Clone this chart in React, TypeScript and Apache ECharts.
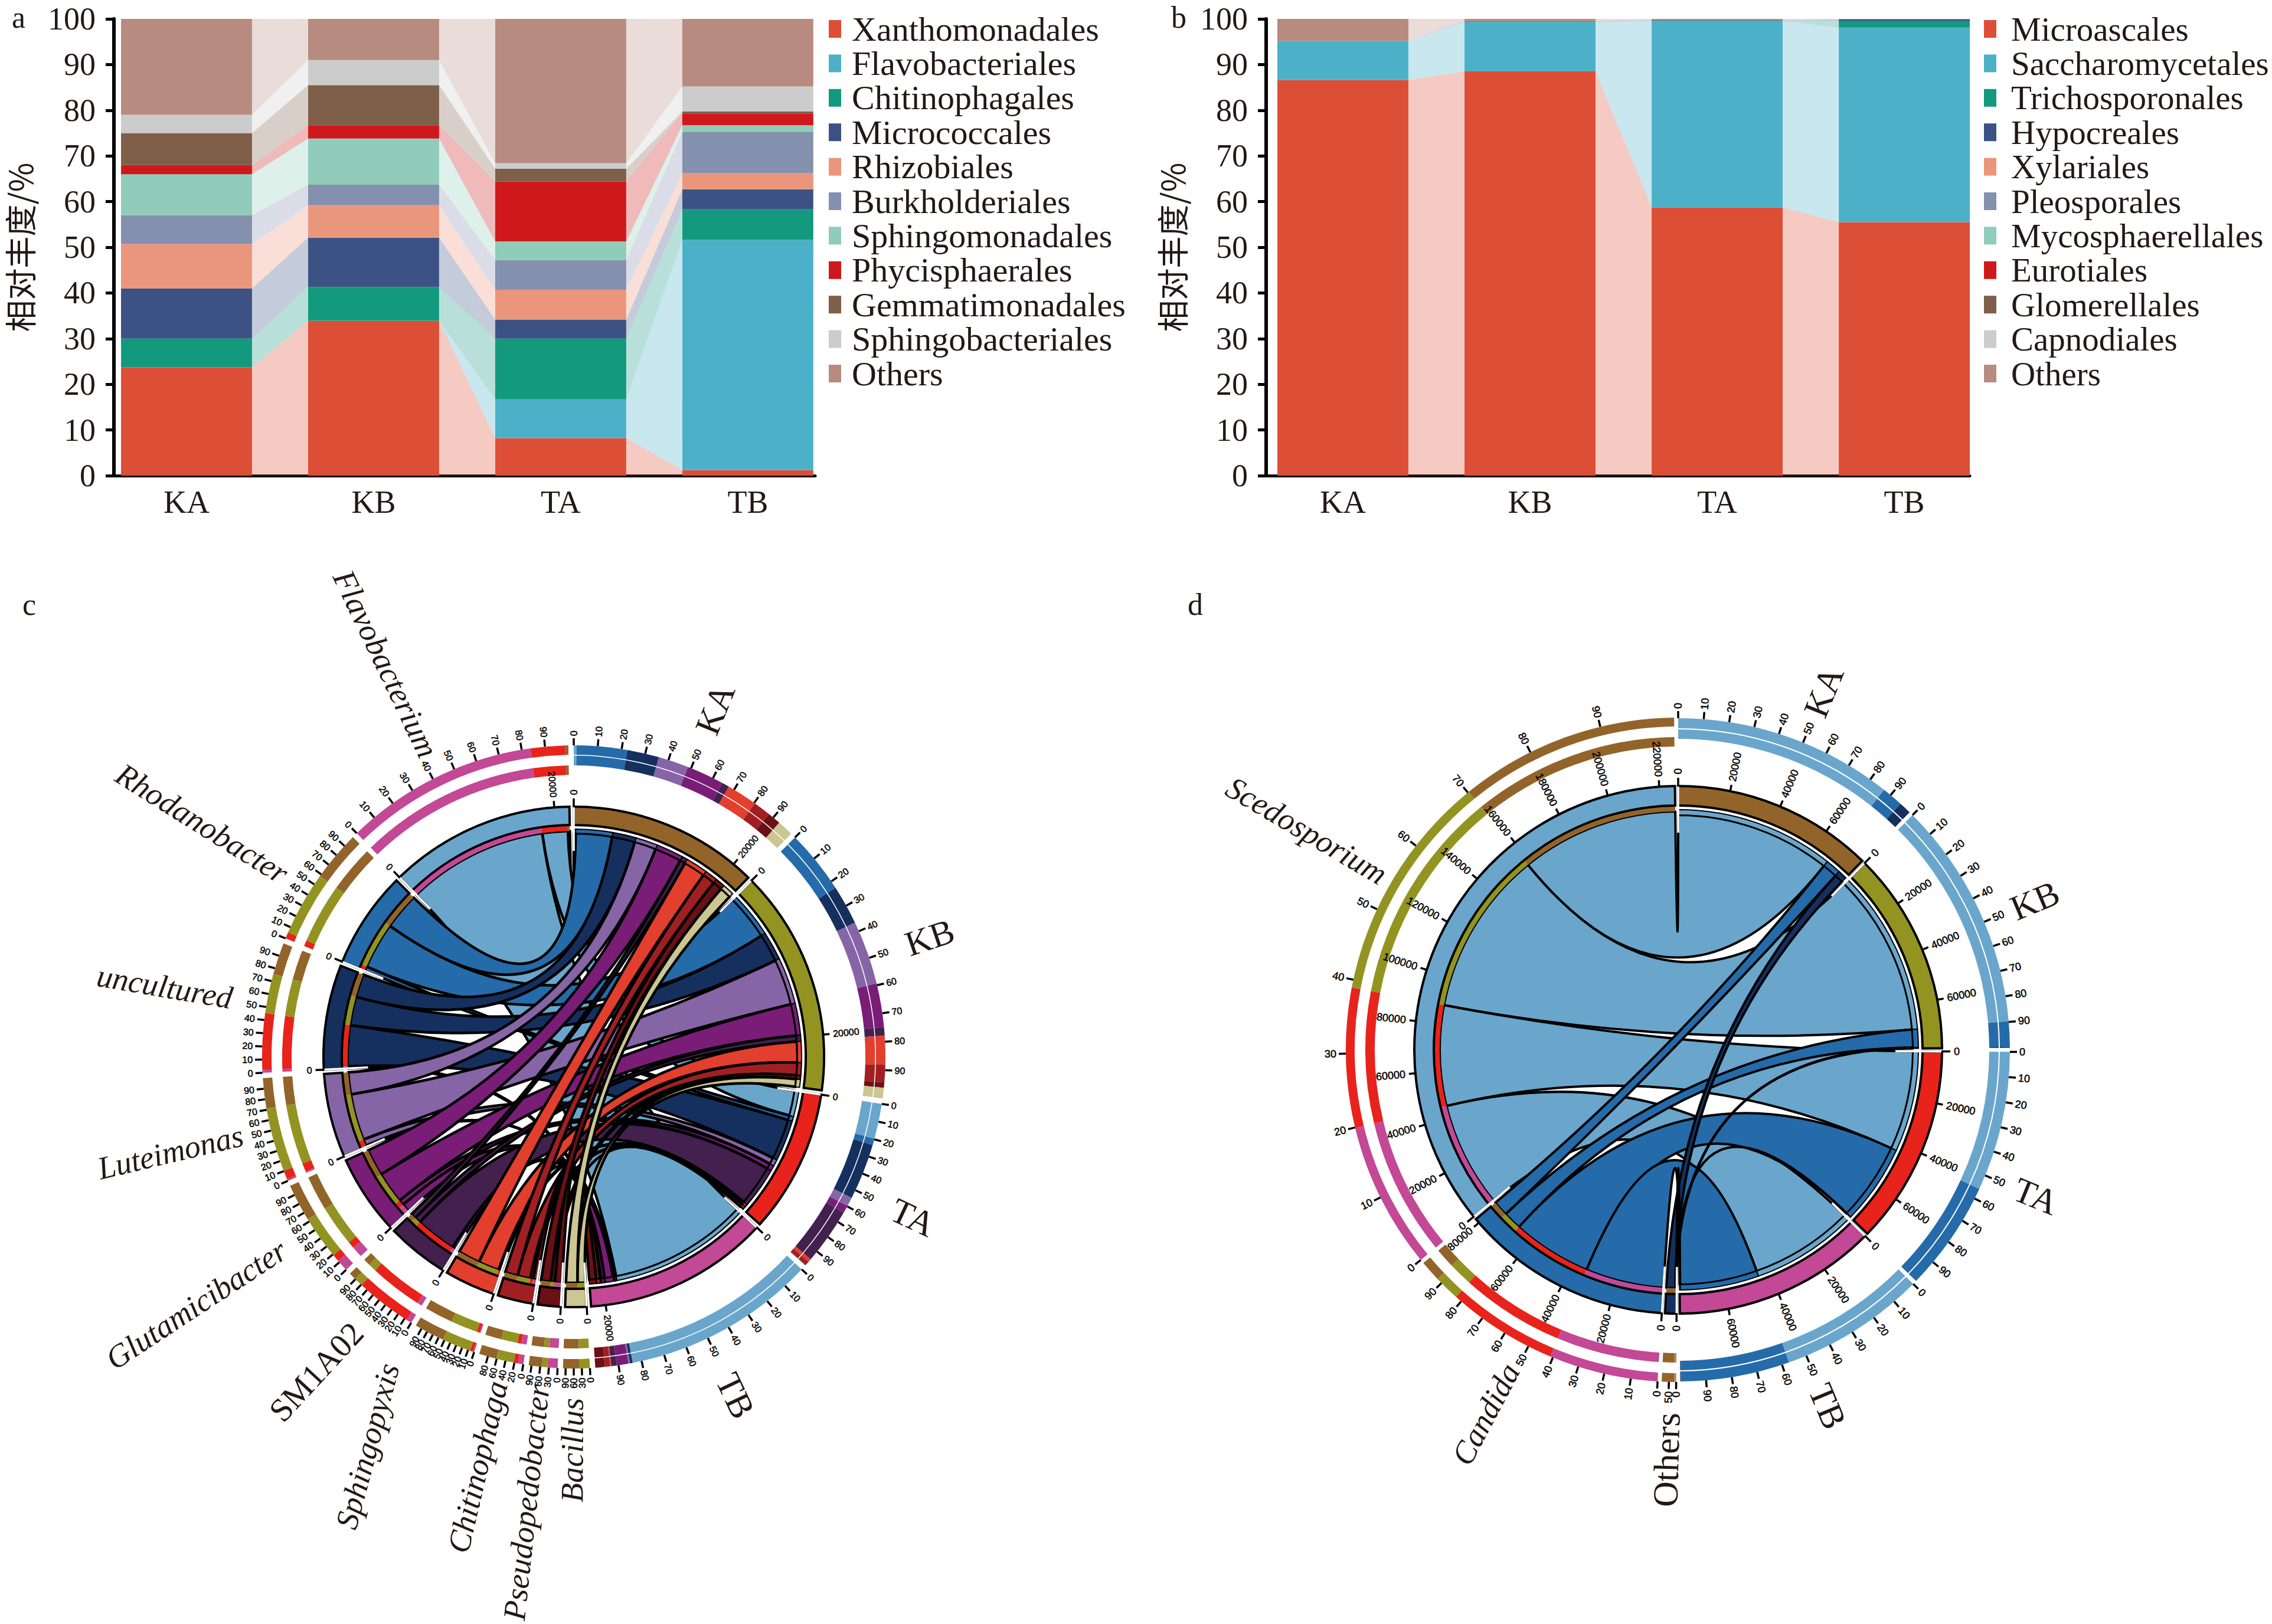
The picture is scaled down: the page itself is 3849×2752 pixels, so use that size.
import React, { useEffect, useRef } from "react";
import * as echarts from "echarts";

const W = 3849;
const H = 2752;
const SERIF = '"Liberation Serif", serif';
const SANS = '"Liberation Sans", Arial, sans-serif';
const CJK = '"Noto Sans CJK SC", sans-serif';
const INK = "#231815";

// ---------- stacked bars a ----------
const sampleNames = ["KA", "KB", "TA", "TB"];
const ordersA = ["Xanthomonadales", "Flavobacteriales", "Chitinophagales", "Micrococcales", "Rhizobiales", "Burkholderiales", "Sphingomonadales", "Phycisphaerales", "Gemmatimonadales", "Sphingobacteriales", "Others"];
const xanthomonadales = [23.7, 33.9, 8.2, 1.2];
const flavobacteriales = [0, 0, 8.5, 50.4];
const chitinophagales = [6.3, 7.4, 13.3, 6.7];
const micrococcales = [11, 10.8, 4.1, 4.4];
const rhizobiales = [9.7, 7.1, 6.6, 3.5];
const burkholderiales = [6.3, 4.5, 6.5, 9.1];
const sphingomonadales = [9, 10.1, 4.1, 1.4];
const phycisphaerales = [2, 2.9, 13.1, 2.6];
const gemmatimonadales = [7, 8.8, 2.8, 0.4];
const sphingobacteriales = [4, 5.5, 1.2, 5.5];
const othersA = [21, 9, 31.6, 14.8];
const valuesA = [xanthomonadales, flavobacteriales, chitinophagales, micrococcales, rhizobiales, burkholderiales, sphingomonadales, phycisphaerales, gemmatimonadales, sphingobacteriales, othersA];

// ---------- stacked bars b ----------
const ordersB = ["Microascales", "Saccharomycetales", "Trichosporonales", "Hypocreales", "Xylariales", "Pleosporales", "Mycosphaerellales", "Eurotiales", "Glomerellales", "Capnodiales", "Others"];
const microascales = [86.6, 88.5, 58.7, 55.5];
const saccharomycetales = [8.6, 10.8, 40.8, 42.6];
const trichosporonales = [0, 0.1, 0.1, 1.5];
const hypocreales = [0, 0.1, 0.1, 0.35];
const xylariales = [0, 0, 0, 0];
const pleosporales = [0, 0, 0, 0];
const mycosphaerellales = [0, 0, 0, 0];
const eurotiales = [0, 0, 0, 0];
const glomerellales = [0, 0, 0, 0];
const capnodiales = [0, 0, 0, 0];
const othersB = [4.8, 0.5, 0.3, 0.05];
const valuesB = [microascales, saccharomycetales, trichosporonales, hypocreales, xylariales, pleosporales, mycosphaerellales, eurotiales, glomerellales, capnodiales, othersB];

const stackColors = ["#DC4E36", "#4DB0C9", "#13997E", "#3C5284", "#EA967C", "#8390AE", "#90CCB9", "#CE181C", "#7F5F49", "#CCCCCC", "#B78B80"];

// ---------- chord c: flow of each genus into KA, KB, TA, TB ----------
const generaC = ["Flavobacterium", "Rhodanobacter", "uncultured", "Luteimonas", "Glutamicibacter", "SM1A02", "Sphingopyxis", "Chitinophaga", "Pseudopedobacter", "Bacillus"];
const flavobacteriumC = [250, 0, 3300, 18200];
const rhodanobacterC = [4750, 6000, 600, 0];
const unculturedC = [3000, 3700, 5300, 250];
const luteimonasC = [2850, 6000, 850, 150];
const glutamicibacterC = [3500, 4100, 700, 1100];
const sm1a02C = [700, 800, 5300, 500];
const sphingopyxisC = [2850, 2700, 300, 100];
const chitinophagaC = [1650, 1650, 400, 500];
const pseudopedobacterC = [1250, 500, 50, 900];
const bacillusC = [1500, 1000, 0, 0];
const flowsC = [flavobacteriumC, rhodanobacterC, unculturedC, luteimonasC, glutamicibacterC, sm1a02C, sphingopyxisC, chitinophagaC, pseudopedobacterC, bacillusC];
const genusColorsC = ["#6AA6CC", "#256BA9", "#15305F", "#8665A6", "#791D77", "#43204E", "#E23F2E", "#A11F23", "#6B1015", "#CBC692"];
const trackStepsC = [10, 10, 10, 10, 10, 10, 10, 20, 30, 30];
const labelShiftC = [-3, -1.5, 0.5, 0.4, 0.5, 0, 6.4, -0.3, 0.4, 0.7];
const labelRadiusC = [566, 577, 587, 576, 588, 587, 607, 565, 558, 578];
const labelTiltC = [0, 0, 0, 0, 0, -4, 16, 0, 0, 0];
const uprightNames = ["SM1A02", "Others"];

// ---------- chord d ----------
const generaD = ["Scedosporium", "Candida", "Others"];
const scedosporiumD = [67500, 70500, 43000, 45000];
const candidaD = [6500, 7800, 34000, 33500];
const othersD = [3800, 300, 100, 200];
const flowsD = [scedosporiumD, candidaD, othersD];
const genusColorsD = ["#6AA6CC", "#256BA9", "#15305F"];
const trackStepsD = [10, 10, 50];
const labelShiftD = [5.5, 1, 0];
const labelRadiusD = [578, 605, 615];
const labelTiltD = [0, 0, 0];

const sampleColors = ["#92642A", "#939322", "#E8231B", "#C34896"];

// ---------- layout constants ----------
const layoutC = {
  cx: 972, cy: 1791, gap: 500, tickStep: 20000, R: 424, band: 393, ringS: [379, 386], ringG: [383, 392],
  sampleOuter: [512, 528], sampleInner: [494, 510.5], genusOuter: [512, 528], genusInner: [478, 494],
  tickFont: 16, sampleR: 636, trackTickOut: 540, ribbonWidth: 4.5, shift: labelShiftC, labelR: labelRadiusC, tilt: labelTiltC,
};
const layoutD = {
  cx: 2843, cy: 1779, gap: 1230, tickStep: 20000, R: 447, band: 414, ringS: [398, 407], ringG: [404, 413],
  sampleOuter: [545, 562], sampleInner: [527, 543], genusOuter: [548, 563], genusInner: [514, 530],
  tickFont: 18, sampleR: 655, trackTickOut: 575, ribbonWidth: 4, shift: labelShiftD, labelR: labelRadiusD, tilt: labelTiltD,
};
const FLIP_DEG = 176;

function buildChord(genera: string[], flows: number[][], genusColors: string[], steps: number[], lay: any) {
  const sampleTotals = sampleNames.map((_, s) => flows.reduce((acc, row) => acc + row[s], 0));
  const genusTotals = flows.map((row) => row.reduce((a, b) => a + b, 0));
  const sectors: any[] = [];
  let cur = 0;
  sampleNames.forEach((name, s) => {
    sectors.push({ name, color: sampleColors[s], start: cur, end: cur + sampleTotals[s], total: sampleTotals[s], isSample: true, step: 10, s });
    cur += sampleTotals[s] + lay.gap;
  });
  for (let g = genera.length - 1; g >= 0; g--) {
    sectors.push({ name: genera[g], color: genusColors[g], start: cur, end: cur + genusTotals[g], total: genusTotals[g], isSample: false, step: steps[g], g });
    cur += genusTotals[g] + lay.gap;
  }
  const span = cur;
  const ribbons: any[] = [];
  const sCursor = sampleNames.map((_, s) => sectors.find((x) => x.isSample && x.s === s).start);
  const gCursor = genera.map((_, g) => sectors.find((x) => !x.isSample && x.g === g).start);
  genera.forEach((_, g) => {
    for (let s = 0; s < sampleNames.length; s++) {
      const v = flows[g][s];
      ribbons[g * 4 + s] = { g, s, v, a0: sCursor[s], a1: sCursor[s] + v, color: genusColors[g], sampleColor: sampleColors[s] };
      sCursor[s] += v;
    }
    for (let s = sampleNames.length - 1; s >= 0; s--) {
      const v = flows[g][s];
      const r = ribbons[g * 4 + s];
      r.b0 = gCursor[g];
      r.b1 = gCursor[g] + v;
      gCursor[g] += v;
    }
  });
  return { sectors, ribbons: ribbons.filter((r) => r.v > 0), span };
}

function chordSeries(polarIndex: number, model: any, lay: any) {
  const { sectors, ribbons, span } = model;
  const base = { type: "custom", coordinateSystem: "polar", polarIndex, silent: true, clip: false, animation: false };
  const arc = (api: any, r: number, a0: number, a1: number, cw = true) => {
    const p = api.coord([r, a1]);
    const large = Math.abs(a1 - a0) / span > 0.5 ? 1 : 0;
    return `A ${r} ${r} 0 ${large} ${cw ? 1 : 0} ${p[0]} ${p[1]}`;
  };
  const ringD = (api: any, r0: number, r1: number, a0: number, a1: number) => {
    const m = api.coord([r1, a0]);
    const l = api.coord([r0, a1]);
    return `M ${m[0]} ${m[1]} ${arc(api, r1, a0, a1)} L ${l[0]} ${l[1]} ${arc(api, r0, a1, a0, false)} Z`;
  };
  const rowIndex = (arr: any[]) => arr.map((_, i) => [0, i]);
  const pathEl = (d: string, style: any) => ({ type: "path", shape: { pathData: d }, style });

  const radialText = (api: any, r: number, a: number, text: string, font: string, alignMode?: string, thin?: boolean, tilt = 0) => {
    const deg = (a / span) * 360;
    const flip = deg >= FLIP_DEG;
    const rot = (((flip ? 270 - deg : 90 - deg) + tilt) * Math.PI) / 180;
    const p = api.coord([r, a]);
    return {
      type: "text", x: p[0], y: p[1], rotation: rot,
      style: {
        text, font, fill: thin ? "#000" : INK, align: alignMode || (flip ? "right" : "left"), verticalAlign: "middle",
        ...(thin ? { stroke: "#000", lineWidth: 0.5 } : {}),
      },
    };
  };

  const ribbonSeries = {
    ...base, name: "ribbons" + polarIndex, z: 2, data: rowIndex(ribbons),
    renderItem: (params: any, api: any) => {
      const f = ribbons[params.dataIndex];
      const Rs = lay.ringS[0];
      const Rg = lay.ringG[0];
      const c = api.coord([0, 0]);
      const a0 = api.coord([Rs, f.a0]);
      const b0 = api.coord([Rg, f.b0]);
      const d = `M ${a0[0]} ${a0[1]} ${arc(api, Rs, f.a0, f.a1)} Q ${c[0]} ${c[1]} ${b0[0]} ${b0[1]} ${arc(api, Rg, f.b0, f.b1)} Q ${c[0]} ${c[1]} ${a0[0]} ${a0[1]} Z`;
      return pathEl(d, { fill: f.color, stroke: "#000", lineWidth: lay.ribbonWidth, lineJoin: "round" });
    },
  };
  const thinItems: any[] = [];
  const trackItems: any[] = [];
  ribbons.forEach((f: any) => {
    thinItems.push({ a0: f.a0, a1: f.a1, fill: f.color, r: lay.ringS, lw: 2 });
    thinItems.push({ a0: f.b0, a1: f.b1, fill: f.sampleColor, r: lay.ringG, lw: 0 });
    trackItems.push({ a0: f.a0, a1: f.a1, fill: f.color, r: lay.sampleOuter });
    trackItems.push({ a0: f.a0, a1: f.a1, fill: f.color, r: lay.sampleInner });
    trackItems.push({ a0: f.b0, a1: f.b1, fill: f.sampleColor, r: lay.genusOuter });
    trackItems.push({ a0: f.b0, a1: f.b1, fill: f.sampleColor, r: lay.genusInner });
  });
  const thinSeries = {
    ...base, name: "links" + polarIndex, z: 3, data: rowIndex(thinItems),
    renderItem: (params: any, api: any) => {
      const t = thinItems[params.dataIndex];
      const stroke = t.lw ? { stroke: "#000", lineWidth: t.lw } : {};
      return pathEl(ringD(api, t.r[0], t.r[1], t.a0, t.a1), { fill: t.fill, ...stroke });
    },
  };
  const trackSeries = {
    ...base, name: "tracks" + polarIndex, z: 3, data: rowIndex(trackItems),
    renderItem: (params: any, api: any) => {
      const t = trackItems[params.dataIndex];
      return pathEl(ringD(api, t.r[0], t.r[1], t.a0, t.a1), { fill: t.fill });
    },
  };
  const bandSeries = {
    ...base, name: "sectors" + polarIndex, z: 4, data: rowIndex(sectors),
    renderItem: (params: any, api: any) => {
      const s = sectors[params.dataIndex];
      return pathEl(ringD(api, lay.band, lay.R, s.start, s.end), { fill: s.color, stroke: "#000", lineWidth: 4 });
    },
  };
  const ticks: any[] = [];
  sectors.forEach((s: any) => {
    ticks.push({ kind: "sep", a: s.start });
    for (let v = 0; v <= s.total; v += lay.tickStep) {
      ticks.push({ kind: "abund", a: s.start + v, text: String(v) });
    }
    const top = s.isSample ? lay.sampleOuter[1] : lay.genusOuter[1];
    for (let p = 0; p < 100; p += s.step) {
      ticks.push({ kind: "pct", a: s.start + (p / 100) * s.total, text: String(p), top });
    }
  });
  const tickSeries = {
    ...base, name: "ticks" + polarIndex, z: 5, data: rowIndex(ticks),
    renderItem: (params: any, api: any) => {
      const t = ticks[params.dataIndex];
      const lineEl = (r0: number, r1: number, lw: number, color = "#000") => {
        const p0 = api.coord([r0, t.a]);
        const p1 = api.coord([r1, t.a]);
        return { type: "line", shape: { x1: p0[0], y1: p0[1], x2: p1[0], y2: p1[1] }, style: { stroke: color, lineWidth: lw } };
      };
      const font = `${lay.tickFont}px ${SANS}`;
      if (t.kind === "sep") return lineEl(lay.ringS[0] - 30, lay.R - 1, 3.5, "#fff");
      if (t.kind === "abund") {
        const len = t.text === "0" ? 14 : 11;
        return { type: "group", children: [lineEl(lay.R, lay.R + len, 3.5), radialText(api, lay.R + len + 6, t.a, t.text, font, undefined, true)] };
      }
      const out = t.top + (lay.trackTickOut - Math.max(lay.sampleOuter[1], lay.genusOuter[1]));
      return { type: "group", children: [lineEl(t.top, out, 3.5), radialText(api, out + 4, t.a, t.text, font, undefined, true)] };
    },
  };
  const labelSeries = {
    ...base, name: "names" + polarIndex, z: 5, data: rowIndex(sectors),
    renderItem: (params: any, api: any) => {
      const s = sectors[params.dataIndex];
      const mid = (s.start + s.end) / 2;
      if (s.isSample) return radialText(api, lay.sampleR, mid, s.name, `60px ${SERIF}`, "center");
      const upright = uprightNames.includes(s.name);
      const size = s.name === "Others" ? 60 : s.name === "SM1A02" ? 56 : 54;
      const a = mid + (lay.shift[s.g] / 360) * span;
      return radialText(api, lay.labelR[s.g], a, s.name, `${upright ? "" : "italic "}${size}px ${SERIF}`, undefined, false, lay.tilt[s.g]);
    },
  };
  return [ribbonSeries, trackSeries, thinSeries, bandSeries, tickSeries, labelSeries];
}

// ---------- stacked panel ----------
const BAR_HALF = 0.35;
function stackSeries(prefix: string, names: string[], values: number[][], gridIndex: number) {
  const cumulative = (layer: number, cat: number) => {
    let s = 0;
    for (let k = 0; k < layer; k++) s += values[k][cat];
    return s;
  };
  const axes = { xAxisIndex: gridIndex, yAxisIndex: gridIndex, silent: true };
  const bars = names.map((name, i) => ({
    type: "custom", name, ...axes, z: 3,
    itemStyle: { color: stackColors[i] },
    data: values[i].map((v, c) => [c, v]),
    renderItem: (params: any, api: any) => {
      const c = api.value(0);
      const low = cumulative(i, c);
      const p0 = api.coord([c - BAR_HALF, low + api.value(1)]);
      const p1 = api.coord([c + BAR_HALF, low]);
      return { type: "rect", shape: { x: p0[0], y: p0[1], width: p1[0] - p0[0], height: p1[1] - p0[1] }, style: { fill: stackColors[i] } };
    },
  }));
  const links: any[] = [];
  names.forEach((_, layer) => {
    for (let gap = 0; gap < sampleNames.length - 1; gap++) links.push([layer, gap]);
  });
  const linkSeries = {
    type: "custom", name: prefix + "-links", ...axes, z: 2,
    data: links,
    renderItem: (params: any, api: any) => {
      const [layer, gap] = links[params.dataIndex];
      const l0 = cumulative(layer, gap);
      const l1 = cumulative(layer, gap + 1);
      const pts = [
        api.coord([gap + BAR_HALF, l0]),
        api.coord([gap + BAR_HALF, l0 + values[layer][gap]]),
        api.coord([gap + 1 - BAR_HALF, l1 + values[layer][gap + 1]]),
        api.coord([gap + 1 - BAR_HALF, l1]),
      ];
      return { type: "polygon", shape: { points: pts }, style: { fill: stackColors[layer], opacity: 0.3 } };
    },
  };
  return [...bars, linkSeries];
}

const xAxisFor = (gridIndex: number, min: number, max: number) => ({
  type: "value", gridIndex, min, max, position: "bottom",
  axisLine: { show: true, onZero: false, lineStyle: { color: "#000", width: 5 } },
  axisTick: { show: false },
  splitLine: { show: false },
  axisLabel: {
    customValues: [0, 1, 2, 3],
    formatter: (v: number) => sampleNames[v] ?? "",
    fontFamily: SERIF, fontSize: 54, color: INK, margin: 18,
  },
});
const yAxisFor = (gridIndex: number) => ({
  type: "value", gridIndex, min: 0, max: 100, interval: 10, position: "left",
  name: "相对丰度/%", nameLocation: "middle", nameGap: 134, nameRotate: 90,
  nameTextStyle: { fontFamily: CJK, fontSize: 54, color: INK },
  axisLine: { show: true, onZero: false, lineStyle: { color: "#000", width: 6 } },
  axisTick: { show: true, length: 14, lineStyle: { color: "#000", width: 5 } },
  splitLine: { show: false },
  axisLabel: { fontFamily: SERIF, fontSize: 54, color: INK, margin: 31 },
});
const legendFor = (names: string[], left: number, textGap: number, size: number) => ({
  data: names, left, top: 20, orient: "vertical", icon: "rect", itemWidth: 21, itemHeight: 30, itemGap: 0.4, padding: 0,
  selectedMode: false,
  textStyle: { fontFamily: SERIF, fontSize: size, color: INK, padding: [0, 0, 0, textGap], lineHeight: 58 },
});
const panelLetter = (text: string, left: number, top: number) => ({
  type: "text", left, top, style: { text, font: `52px ${SERIF}`, fill: INK },
});

export default function App() {
  const ref = useRef<HTMLDivElement>(null);
  useEffect(() => {
    const chart = echarts.init(ref.current!, undefined, { renderer: "svg" });
    const modelC = buildChord(generaC, flowsC, genusColorsC, trackStepsC, layoutC);
    const modelD = buildChord(generaD, flowsD, genusColorsD, trackStepsD, layoutD);
    const polarFor = (lay: any) => ({ center: [lay.cx, lay.cy], radius: [0, 700] });
    const angleFor = (polarIndex: number, span: number) => ({
      polarIndex, type: "value", min: 0, max: span, startAngle: 90, clockwise: true, show: false,
    });
    const radiusFor = (polarIndex: number) => ({ polarIndex, type: "value", min: 0, max: 700, show: false });
    chart.setOption({
      animation: false,
      backgroundColor: "#fff",
      grid: [
        { left: 193, width: 1188, top: 32, height: 774 },
        { left: 2145, width: 1192, top: 32, height: 774 },
      ],
      xAxis: [xAxisFor(0, -0.388, 3.36), xAxisFor(1, -0.41, 3.35)],
      yAxis: [yAxisFor(0), yAxisFor(1)],
      legend: [legendFor(ordersA, 1404, 13, 58), legendFor(ordersB, 3361, 20, 57)],
      polar: [polarFor(layoutC), polarFor(layoutD)],
      angleAxis: [angleFor(0, modelC.span), angleFor(1, modelD.span)],
      radiusAxis: [radiusFor(0), radiusFor(1)],
      graphic: [
        panelLetter("a", 20, 3),
        panelLetter("b", 1984, 3),
        panelLetter("c", 38, 998),
        panelLetter("d", 2012, 998),
      ],
      series: [
        ...stackSeries("a", ordersA, valuesA, 0),
        ...stackSeries("b", ordersB, valuesB, 1),
        ...chordSeries(0, modelC, layoutC),
        ...chordSeries(1, modelD, layoutD),
      ],
    });
    return () => chart.dispose();
  }, []);
  return <div ref={ref} style={{ position: "absolute", left: 0, top: 0, width: W, height: H, background: "#fff" }} />;
}
